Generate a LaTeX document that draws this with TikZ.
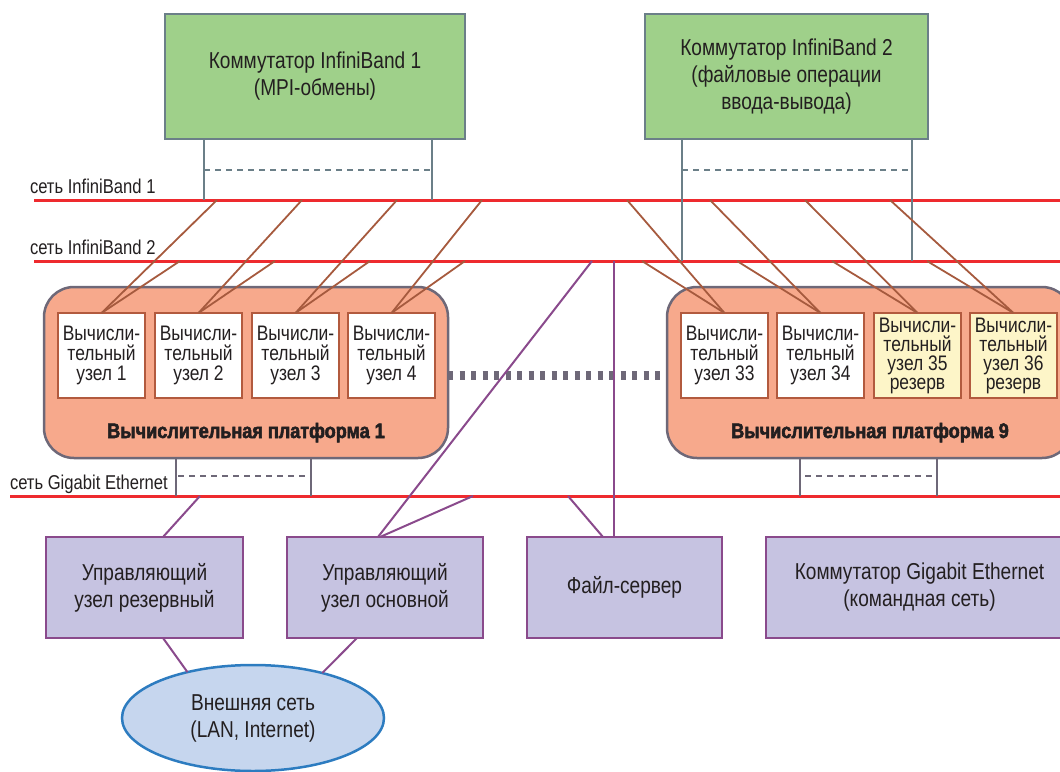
\documentclass[tikz,border=0pt]{standalone}
\usepackage{fontspec}
\setmainfont{Liberation Sans}[FakeStretch=0.83, BoldFeatures={FakeStretch=0.86, FakeBold=2.5}]
\usetikzlibrary{shapes.geometric}
\definecolor{swgreen}{HTML}{9FD08A}
\definecolor{swgray}{HTML}{6B7F88}
\definecolor{netred}{HTML}{EE2A2E}
\definecolor{linkbrown}{HTML}{A65A3E}
\definecolor{platfill}{HTML}{F7A98C}
\definecolor{platgray}{HTML}{6E6878}
\definecolor{nodebrd}{HTML}{B25A3E}
\definecolor{resyel}{HTML}{FDF5C8}
\definecolor{lnkpurp}{HTML}{8A4A8C}
\definecolor{boxlav}{HTML}{C6C3E1}
\definecolor{ellfill}{HTML}{C6D6EE}
\definecolor{ellblue}{HTML}{2D7CC0}
\definecolor{txt}{HTML}{231F20}
\newcommand{\fsw}{\fontsize{23}{27}\selectfont}
\newcommand{\fcn}{\fontsize{21}{20}\selectfont}
\newcommand{\fcnr}{\fontsize{21}{19}\selectfont}
\newcommand{\fnet}{\fontsize{20}{22}\selectfont}
\newcommand{\fplat}{\bfseries\fontsize{21}{22}\selectfont}
\begin{document}
\begin{tikzpicture}[x=1pt,y=-1pt,
 every node/.style={inner sep=0pt,outer sep=0pt,text=txt},
 swbox/.style={draw=swgray,line width=2.5pt,fill=swgreen,anchor=north west,align=center,font=\fsw},
 netline/.style={draw=netred,line width=3pt},
 netlabel/.style={anchor=base west,font=\fnet},
 swlink/.style={draw=swgray,line width=2.5pt},
 swdash/.style={draw=swgray,line width=2.5pt,dash pattern=on 6pt off 5pt},
 platbox/.style={draw=platgray,line width=2.5pt,fill=platfill,rounded corners=30pt,anchor=north west},
 cnode/.style={draw=nodebrd,line width=2pt,fill=white,anchor=north west,minimum width=87pt,minimum height=85pt,align=center,font=\fcn},
 rnode/.style={cnode,fill=resyel,font=\fcnr},
 platlabel/.style={anchor=base,font=\fplat},
 iblink/.style={draw=linkbrown,line width=1.8pt},
 platlink/.style={draw=platgray,line width=2.5pt},
 platdash/.style={draw=platgray,line width=2.5pt,dash pattern=on 6pt off 5pt},
 bigdash/.style={draw=platgray,line width=9pt,dash pattern=on 5pt off 6.5pt},
 gelink/.style={draw=lnkpurp,line width=2pt},
 srvbox/.style={draw=lnkpurp,line width=2.5pt,fill=boxlav,anchor=north west,minimum height=101pt,align=center,font=\fsw},
 extnet/.style={ellipse,draw=ellblue,line width=2.5pt,fill=ellfill,minimum width=262pt,minimum height=106pt,align=center,font=\fsw}
]
\useasboundingbox (0,0) rectangle (1060,771);
\clip (0,0) rectangle (1060,771);

% switches
\node[swbox,minimum width=300pt,minimum height=125pt] (sw1) at (165,14) {Коммутатор InfiniBand 1\\(MPI-обмены)};
\node[swbox,minimum width=283pt,minimum height=125pt] (sw2) at (645,14) {Коммутатор InfiniBand 2\\(файловые операции\\ввода-вывода)};

% network lines
\coordinate (ib1w) at (34,200); \coordinate (ib1e) at (1060,200);
\coordinate (ib2w) at (34,261); \coordinate (ib2e) at (1060,261);
\coordinate (gew) at (10,496); \coordinate (gee) at (1060,496);
\draw[netline] (ib1w) -- (ib1e);
\draw[netline] (ib2w) -- (ib2e);
\draw[netline] (gew) -- (gee);
\node[netlabel] (lib1) at (30,193) {сеть InfiniBand 1};
\node[netlabel] (lib2) at (30,254) {сеть InfiniBand 2};
\node[netlabel] (lge) at (10,489) {сеть Gigabit Ethernet};

% switch uplinks
\coordinate (s1a) at (204,200); \coordinate (s1b) at (432,200);
\coordinate (s2a) at (682,261); \coordinate (s2b) at (912,261);
\coordinate (d1a) at (204,170); \coordinate (d1b) at (432,170);
\coordinate (d2a) at (682,170); \coordinate (d2b) at (912,170);
\draw[swlink] (s1a |- sw1.south) -- (s1a);
\draw[swlink] (s1b |- sw1.south) -- (s1b);
\draw[swlink] (s2a |- sw2.south) -- (s2a);
\draw[swlink] (s2b |- sw2.south) -- (s2b);
\draw[swdash] (d1a) -- (d1b);
\draw[swdash] (d2a) -- (d2b);

% platforms
\node[platbox,minimum width=404pt,minimum height=171pt] (pf1) at (44,287) {};
\node[platbox,minimum width=405pt,minimum height=171pt] (pf9) at (667,287) {};
\draw[bigdash] ([yshift=-2.5pt]pf1.east) -- ([yshift=-2.5pt]pf9.west);

% compute nodes
\node[cnode] (n1) at (58,313) {Вычисли-\\тельный\\узел 1};
\node[cnode] (n2) at (155,313) {Вычисли-\\тельный\\узел 2};
\node[cnode] (n3) at (252,313) {Вычисли-\\тельный\\узел 3};
\node[cnode] (n4) at (348,313) {Вычисли-\\тельный\\узел 4};
\node[cnode] (n33) at (681,313) {Вычисли-\\тельный\\узел 33};
\node[cnode] (n34) at (777,313) {Вычисли-\\тельный\\узел 34};
\node[rnode] (n35) at (874,313) {Вычисли-\\тельный\\узел 35\\резерв};
\node[rnode] (n36) at (970,313) {Вычисли-\\тельный\\узел 36\\резерв};
\node[platlabel] (pl1) at (246,438) {Вычислительная платформа 1};
\node[platlabel] (pl9) at (870,438) {Вычислительная платформа 9};

% InfiniBand links
\coordinate (a1) at (217,200); \coordinate (b1) at (180,261);
\coordinate (a2) at (302,200); \coordinate (b2) at (275,261);
\coordinate (a3) at (397,200); \coordinate (b3) at (370,261);
\coordinate (a4) at (482,200); \coordinate (b4) at (465,261);
\coordinate (a33) at (627,200); \coordinate (b33) at (642,261);
\coordinate (a34) at (710,200); \coordinate (b34) at (737,261);
\coordinate (a35) at (805,200); \coordinate (b35) at (832,261);
\coordinate (a36) at (890,200); \coordinate (b36) at (927,261);
\foreach \k in {1,2,3,4,33,34,35,36}{
  \draw[iblink] (a\k) -- (n\k.north);
  \draw[iblink] (b\k) -- (n\k.north);
}

% platform GE links
\coordinate (g1a) at (176,496); \coordinate (g1b) at (311,496);
\coordinate (g9a) at (800,496); \coordinate (g9b) at (937,496);
\coordinate (h1a) at (178,476); \coordinate (h1b) at (309,476);
\coordinate (h9a) at (805,476); \coordinate (h9b) at (935,476);
\draw[platlink] (g1a |- pf1.south) -- (g1a);
\draw[platlink] (g1b |- pf1.south) -- (g1b);
\draw[platlink] (g9a |- pf9.south) -- (g9a);
\draw[platlink] (g9b |- pf9.south) -- (g9b);
\draw[platdash] (h1a) -- (h1b);
\draw[platdash] (h9a) -- (h9b);

% bottom boxes
\node[srvbox,minimum width=197pt] (rez) at (46,537) {Управляющий\\узел резервный};
\node[srvbox,minimum width=196pt] (osn) at (287,537) {Управляющий\\узел основной};
\node[srvbox,minimum width=195pt] (fs) at (527,537) {Файл-сервер};
\node[srvbox,minimum width=307pt] (gsw) at (766,537) {Коммутатор Gigabit Ethernet\\(командная сеть)};
\node[extnet] (ext) at (253,718) {Внешняя сеть\\(LAN, Internet)};

% purple links
\coordinate (c1) at (592,261); \coordinate (c2) at (614,261);
\coordinate (e1) at (200,496); \coordinate (e2) at (473,496); \coordinate (e3) at (568,496);
\draw[gelink] (c1) -- ([xshift=-7pt]osn.north);
\draw[gelink] (c2) -- (c2 |- fs.north);
\draw[gelink] (e1) -- ([xshift=18.5pt]rez.north);
\draw[gelink] (e2) -- ([xshift=-5pt]osn.north);
\draw[gelink] (e3) -- ([xshift=-21.5pt]fs.north);
\draw[gelink] ([xshift=18.5pt]rez.south) -- (ext.145);
\draw[gelink] ([xshift=-28pt]osn.south) -- (ext.33);
\end{tikzpicture}
\end{document}
